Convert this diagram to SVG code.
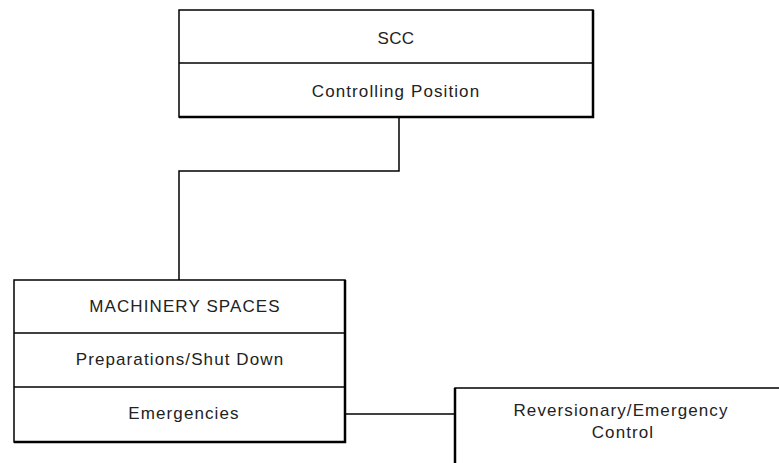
<svg xmlns="http://www.w3.org/2000/svg" width="779" height="463" viewBox="0 0 779 463">
<style>
.box{fill:#fff;stroke:#000;stroke-width:1.5}
.div{stroke:#000;stroke-width:1.5}
.heavy{stroke:#000;stroke-width:2.5;fill:none}
.conn{stroke:#000;stroke-width:1.5;fill:none}
text{font-family:"Liberation Sans",Arial,sans-serif;font-size:17px;fill:#222;text-anchor:middle;letter-spacing:1.1px}
</style>
<rect width="779" height="463" fill="#fff"/>
<g id="connectors">
<path class="conn" d="M399,117 V171 H179 V280"/>
<path class="conn" d="M345,414 H455"/>
</g>
<g id="scc">
<rect class="box" x="179" y="10" width="414" height="107"/>
<line class="div" x1="179" y1="63" x2="593" y2="63"/>
<path class="heavy" d="M593,10 V117 H179"/>
<text x="396" y="44" style="letter-spacing:0.4px">SCC</text>
<text x="396" y="97">Controlling Position</text>
</g>
<g id="machinery">
<rect class="box" x="14" y="280" width="331" height="162"/>
<line class="div" x1="14" y1="333" x2="345" y2="333"/>
<line class="div" x1="14" y1="387" x2="345" y2="387"/>
<path class="heavy" d="M345,280 V442 H14"/>
<text x="185" y="312">MACHINERY SPACES</text>
<text x="180" y="365">Preparations/Shut Down</text>
<text x="184" y="419">Emergencies</text>
</g>
<g id="reversionary">
<path class="conn" d="M455,463 V388 H779"/>
<path class="heavy" d="M455,463 V388"/>
<text x="621" y="416">Reversionary/Emergency</text>
<text x="623" y="438">Control</text>
</g>
</svg>
